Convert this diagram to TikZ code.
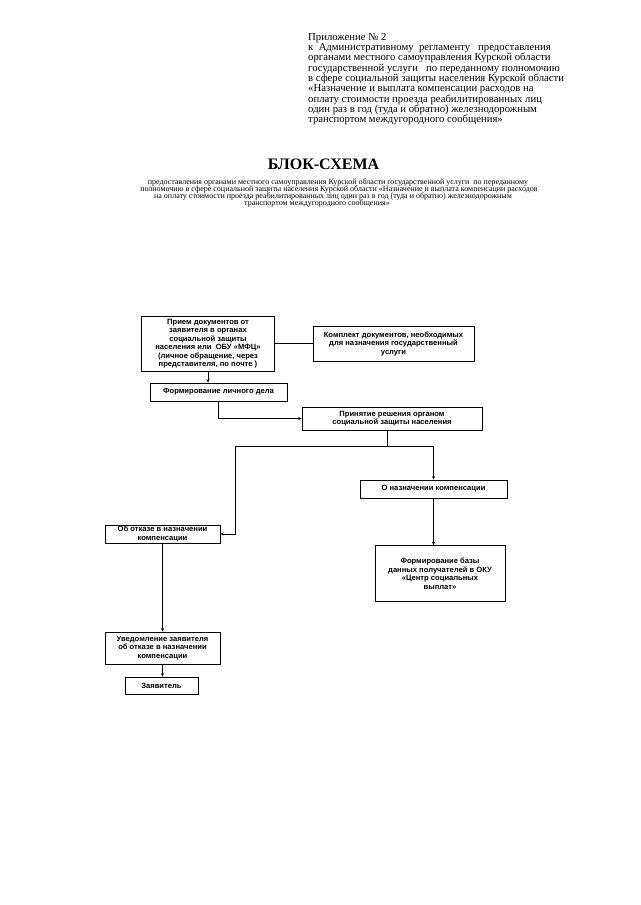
\documentclass[tikz,border=0pt]{standalone}
\usepackage{fontspec}
\setmainfont{Liberation Serif}
\newfontfamily\boxfont{Liberation Sans}
\usetikzlibrary{arrows.meta}
\begin{document}
\begin{tikzpicture}[x=1pt,y=-1pt,
  box/.style={draw, line width=0.7pt, inner sep=0pt, align=center,
    font=\boxfont\bfseries\fontsize{7.6}{8.5}\selectfont},
  arr/.style={line width=0.6pt, -{Stealth[length=3.5pt,width=3pt]}},
  ln/.style={line width=0.6pt},
  hdr/.style={anchor=base west, inner sep=0pt, font=\fontsize{10.7}{10.35}\selectfont},
  sub/.style={anchor=base, inner sep=0pt, font=\fontsize{8}{7.3}\selectfont}]
\useasboundingbox[fill=white] (0,0) rectangle (640,905);
% header
\node[hdr] (h1) at (308,40) {Приложение № 2};
\node[hdr] (h2) at (308,50.35) {к\ \ Административному\ \ регламенту\ \ \ предоставления};
\node[hdr] (h3) at (308,60.7) {органами местного самоуправления Курской области};
\node[hdr] (h4) at (308,71.05) {государственной услуги\ \ \ по переданному полномочию};
\node[hdr] (h5) at (308,81.4) {в сфере социальной защиты населения Курской области};
\node[hdr] (h6) at (308,91.75) {«Назначение и выплата компенсации расходов на};
\node[hdr] (h7) at (308,102.1) {оплату стоимости проезда реабилитированных лиц};
\node[hdr] (h8) at (308,112.45) {один раз в год (туда и обратно) железнодорожным};
\node[hdr] (h9) at (308,122.8) {транспортом междугородного сообщения»};
% title
\node[anchor=base, inner sep=0pt, font=\bfseries\fontsize{16}{18}\selectfont] (title) at (323.5,169) {БЛОК-СХЕМА};
\node[sub] (s1) at (338,184) {предоставления органами местного самоуправления Курской области государственной услуги\ \ по переданному};
\node[sub] (s2) at (339,191.3) {полномочию в сфере социальной защиты населения Курской области «Назначение и выплата компенсации расходов};
\node[sub] (s3) at (333,198.6) {на оплату стоимости проезда реабилитированных лиц один раз в год (туда и обратно) железнодорожным};
\node[sub] (s4) at (317,205.9) {транспортом междугородного сообщения»};
% boxes
\node[box, minimum width=133, minimum height=55] (b1) at (208,343.5)
  {Прием документов от\\заявителя в органах\\социальной защиты\\населения или\ \ ОБУ «МФЦ»\\(личное обращение, через\\представителя, по почте )};
\node[box, minimum width=161, minimum height=35] (b2) at (393.5,343.5)
  {Комплект документов, необходимых\\для назначения государственный\\услуги};
\node[box, minimum width=137, minimum height=18] (b3) at (218.5,392) {Формирование личного дела};
\node[box, minimum width=180, minimum height=23] (b4) at (392,418.5)
  {Принятие решения органом\\социальной защиты населения};
\node[box, minimum width=147, minimum height=18] (b5) at (433.5,489) {О назначении компенсации};
\node[box, minimum width=115, minimum height=18] (b6) at (162.5,534)
  {Об отказе в назначении\\компенсации};
\node[box, minimum width=130, minimum height=56] (b7) at (440,573.5)
  {Формирование базы\\данных получателей в ОКУ\\«Центр социальных\\выплат»};
\node[box, minimum width=115, minimum height=32] (b8) at (162.5,648)
  {Уведомление заявителя\\об отказе в назначении\\компенсации};
\node[box, minimum width=73, minimum height=17] (b9) at (161.5,685.5) {Заявитель};
% connectors
\coordinate (split) at (387,446);
\coordinate (lc) at (235,446);
\draw[ln] (b1.east) -- (b2.west);
\draw[arr] (b1.south) -- (b1.south |- b3.north);
\draw[arr] (b3.south) |- (b4.west);
\draw[ln] (split |- b4.south) -- (split);
\draw[arr] (split) -| (b5.north);
\draw[arr] (split) -- (lc) |- (b6.east);
\draw[arr] (b5.south) -- (b5.south |- b7.north);
\draw[arr] (b6.south) -- (b8.north);
\draw[arr] (b8.south) -- (b8.south |- b9.north);
\end{tikzpicture}
\end{document}
